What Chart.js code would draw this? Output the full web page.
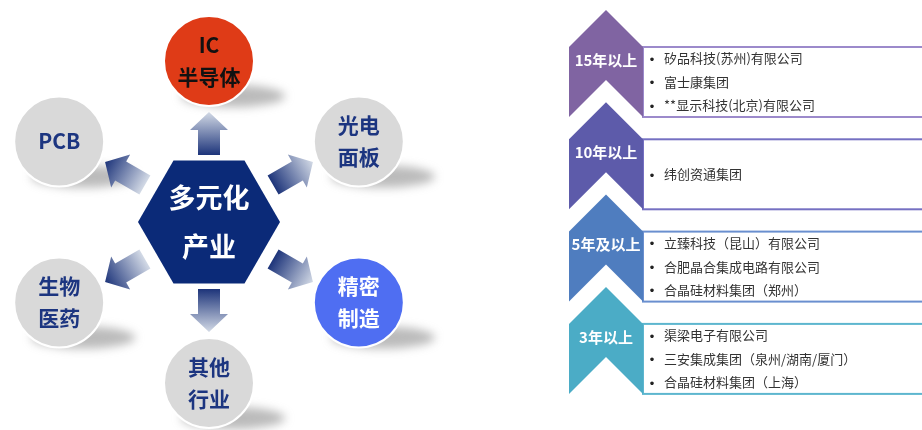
<!DOCTYPE html>
<html><head><meta charset="utf-8">
<script src="https://cdn.jsdelivr.net/npm/chart.js@4.4.0/dist/chart.umd.min.js"></script>
<style>html,body{margin:0;padding:0;background:#fff;overflow:hidden}#c{display:block}</style>
</head><body><canvas id="c" width="922" height="430"></canvas>
<script>
// ---- data ----
const industryLabels = [['IC','半导体'],['光电','面板'],['精密','制造'],['其他','行业'],['生物','医药'],['PCB']];
const centerLabel = ['多元化','产业'];
const tierLabels = ['15年以上','10年以上','5年及以上','3年以上'];
const tierCompanies = [
  ['矽品科技(苏州)有限公司','富士康集团','**显示科技(北京)有限公司'],
  ['纬创资通集团'],
  ['立臻科技（昆山）有限公司','合肥晶合集成电路有限公司','合晶硅材料集团（郑州）'],
  ['渠梁电子有限公司','三安集成集团（泉州/湖南/厦门）','合晶硅材料集团（上海）']
];

// ---- styles / layout ----
const FONT = '"Noto Sans CJK SC","Noto Sans",sans-serif';
const circleFill = ['#DF3B17','#D9D9D9','#4F6EF2','#D9D9D9','#D9D9D9','#D9D9D9'];
const circleText = ['#111111','#1C3580','#FFFFFF','#1C3580','#1C3580','#1C3580'];
const tierFill = ['#8064A2','#5D5BAA','#4F7DBF','#4BACC6'];
const tierLine = ['#9C8ACB','#7570C2','#6A8FCF','#5DB6CF'];
const HUB = {x:209, y:222}, ORBIT = {rx:173, ry:161}, CIRCLE_R = 45, HEX_R = 71;
const CHEV = {left:569, right:643, top0:10, step:92.3, shoulder:37, height:107, notch:70, boxRight:930};

const angles = industryLabels.map((_, i) => (-90 + 60 * i) * Math.PI / 180);
const circlePts = angles.map(a => ({x: HUB.x + ORBIT.rx * Math.cos(a), y: HUB.y + ORBIT.ry * Math.sin(a)}));

function drawArrow(ctx, sx, sy, ex, ey, darkAtTip) {
  const dx = ex - sx, dy = ey - sy, L = Math.hypot(dx, dy), ux = dx / L, uy = dy / L, vx = -uy, vy = ux;
  const hl = 18, hw = 19, sw = 11;
  const P = (a, b) => [sx + ux * a + vx * b, sy + uy * a + vy * b];
  const pts = [P(0,-sw),P(L-hl,-sw),P(L-hl,-hw),P(L,0),P(L-hl,hw),P(L-hl,sw),P(0,sw)];
  const g = ctx.createLinearGradient(sx, sy, ex, ey);
  const dark = '#1D347A', light = '#D3DAE6';
  g.addColorStop(0, darkAtTip ? light : dark);
  g.addColorStop(1, darkAtTip ? dark : light);
  ctx.beginPath();
  pts.forEach((p, i) => i ? ctx.lineTo(p[0], p[1]) : ctx.moveTo(p[0], p[1]));
  ctx.closePath();
  ctx.fillStyle = g;
  ctx.fill();
}

const diagram = {
  id: 'diagram',
  beforeDatasetsDraw(chart) {
    const ctx = chart.ctx, X = chart.scales.x, Y = chart.scales.y;
    const px = v => X.getPixelForValue(v), py = v => Y.getPixelForValue(v);
    ctx.save();
    // shadows
    circlePts.forEach(p => {
      ctx.save();
      ctx.filter = 'blur(5px)';
      ctx.fillStyle = 'rgba(120,120,120,0.5)';
      ctx.beginPath();
      ctx.ellipse(px(p.x + 24), py(p.y + 35), 52, 11, 0, 0, Math.PI * 2);
      ctx.fill();
      ctx.restore();
    });
    // arrows
    angles.forEach(a => {
      const vertical = Math.abs(Math.sin(a)) > 0.99;
      const r0 = vertical ? 67 : 74, r1 = vertical ? 110 : 120;
      const c = Math.cos(a), s = Math.sin(a);
      drawArrow(ctx, px(HUB.x + r0 * c), py(HUB.y + r0 * s), px(HUB.x + r1 * c), py(HUB.y + r1 * s), c < -0.1);
    });
    // hexagon
    ctx.beginPath();
    for (let k = 0; k < 6; k++) {
      const t = k * Math.PI / 3;
      const x = px(HUB.x + HEX_R * Math.cos(t)), y = py(HUB.y + HEX_R * Math.sin(t));
      k ? ctx.lineTo(x, y) : ctx.moveTo(x, y);
    }
    ctx.closePath();
    ctx.fillStyle = '#0B2A78';
    ctx.fill();
    ctx.restore();
  },
  afterDatasetsDraw(chart) {
    const ctx = chart.ctx, X = chart.scales.x, Y = chart.scales.y;
    const px = v => X.getPixelForValue(v), py = v => Y.getPixelForValue(v);
    ctx.save();
    ctx.textAlign = 'center';
    ctx.textBaseline = 'middle';
    // circle labels
    industryLabels.forEach((lines, i) => {
      const p = circlePts[i];
      ctx.fillStyle = circleText[i];
      ctx.font = 'bold 21px ' + FONT;
      lines.forEach((t, j) => {
        const off = (j - (lines.length - 1) / 2) * 32;
        ctx.fillText(t, px(p.x), py(p.y + off));
      });
    });
    // hub labels
    ctx.fillStyle = '#FFFFFF';
    ctx.font = 'bold 27px ' + FONT;
    centerLabel.forEach((t, j) => {
      ctx.fillText(t, px(HUB.x), py(HUB.y + (j - 0.5) * 49));
    });
    // right panel
    const mid = (CHEV.left + CHEV.right) / 2;
    tierLabels.forEach((lab, i) => {
      const a = CHEV.top0 + CHEV.step * i, s = a + CHEV.shoulder, b = a + CHEV.height, n = a + CHEV.notch;
      ctx.fillStyle = '#FFFFFF';
      ctx.fillRect(px(CHEV.right), py(s), px(CHEV.boxRight) - px(CHEV.right), py(b) - py(s));
      ctx.strokeStyle = tierLine[i];
      ctx.lineWidth = 2;
      ctx.strokeRect(px(CHEV.right), py(s), px(CHEV.boxRight) - px(CHEV.right), py(b) - py(s));
      ctx.beginPath();
      ctx.moveTo(px(mid), py(a));
      ctx.lineTo(px(CHEV.right), py(s));
      ctx.lineTo(px(CHEV.right), py(b));
      ctx.lineTo(px(mid), py(n));
      ctx.lineTo(px(CHEV.left), py(b));
      ctx.lineTo(px(CHEV.left), py(s));
      ctx.closePath();
      ctx.fillStyle = tierFill[i];
      ctx.fill();
      ctx.fillStyle = '#FFFFFF';
      ctx.textAlign = 'center';
      ctx.font = 'bold 15px ' + FONT;
      ctx.fillText(lab, px(mid), py(a + 50), 70);
      const list = tierCompanies[i], cy = (s + b) / 2;
      list.forEach((t, j) => {
        const y = cy + (j - (list.length - 1) / 2) * 23.5;
        ctx.textAlign = 'center';
        ctx.fillStyle = '#222222';
        ctx.font = 'bold 14px ' + FONT;
        ctx.fillText('•', px(652), py(y));
        ctx.textAlign = 'left';
        ctx.fillStyle = '#333333';
        ctx.font = '13px ' + FONT;
        ctx.fillText(t, px(664), py(y));
      });
    });
    ctx.restore();
  }
};

new Chart(document.getElementById('c'), {
  type: 'scatter',
  data: { datasets: [{
    data: circlePts,
    pointRadius: CIRCLE_R, pointHoverRadius: CIRCLE_R,
    backgroundColor: circleFill, borderColor: '#FFFFFF', borderWidth: 2,
    clip: false
  }]},
  options: {
    responsive: false, animation: false, events: [],
    layout: { padding: 0, autoPadding: false },
    plugins: { legend: { display: false }, tooltip: { enabled: false } },
    scales: {
      x: { type: 'linear', min: 0, max: 922, display: false },
      y: { type: 'linear', min: 0, max: 430, reverse: true, display: false }
    }
  },
  plugins: [diagram]
});
</script>
</body></html>
